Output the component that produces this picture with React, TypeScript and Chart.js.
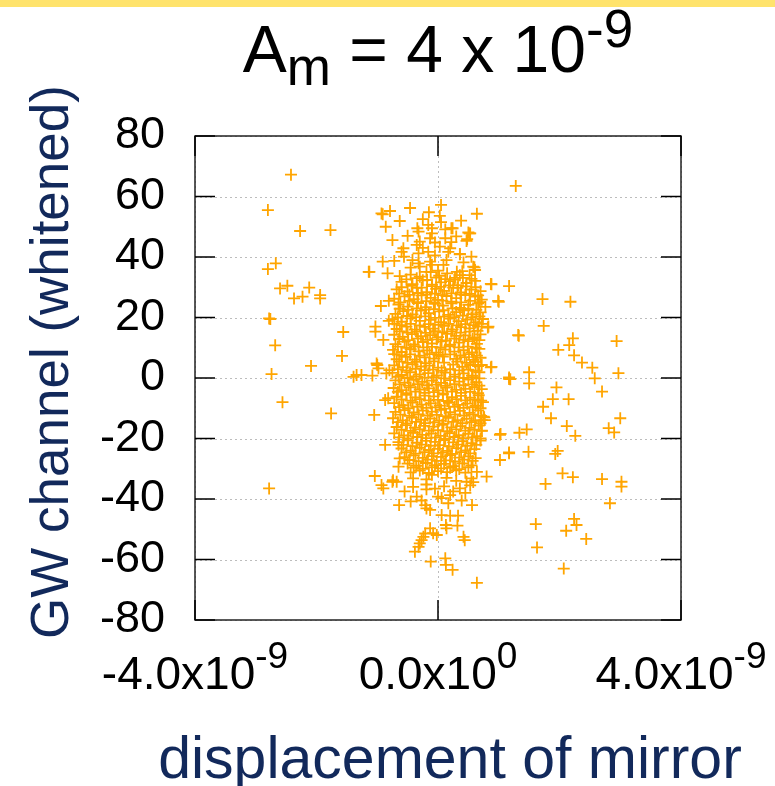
import React, { useEffect, useRef } from "react";
import { Chart, registerables } from "chart.js";

Chart.register(...registerables);

// x values are given in units of 1e-9 (displacement of mirror), y in GW channel (whitened)
const X_UNIT = 1e-9;

const leftOutliers: [number, number][] = [
  [-2.42, 67.2], [-2.80, 55.5], [-2.27, 48.6], [-1.77, 48.9], [-2.80, 36.0], [-2.67, 37.9],
  [-2.60, 29.6], [-2.48, 30.5], [-2.37, 26.3], [-2.23, 26.9], [-2.12, 29.9], [-1.94, 27.4],
  [-1.94, 26.3], [-2.78, 19.7], [-2.76, 19.5], [-2.68, 10.8], [-2.74, 1.3], [-1.56, 15.2],
  [-1.58, 7.3], [-2.09, 4.0], [-1.14, 35.1], [-0.91, 38.5], [-0.83, 34.6], [-1.03, 17.0],
  [-1.03, 15.3], [-0.81, 18.9], [-0.94, 23.8], [-0.81, 25.5], [-0.90, 12.6], [-1.00, 4.3],
  [-0.80, 2.6], [-1.34, 1.0], [-1.39, 0.4], [-2.56, -8.0], [-1.76, -11.7], [-1.05, -12.2],
  [-0.87, -7.3], [-0.82, -6.7], [-0.87, -22.1], [-0.65, -22.1], [-2.78, -36.5], [-1.04, -32.4],
  [-0.93, -35.4], [-0.90, -36.5], [-0.75, -34.3], [-0.64, -42.0], [-0.65, -29.3], [-0.63, -26.6],
  [-1.26, 1.0], [-1.01, 4.8], [-0.98, 3.2], [-1.08, 0.8], [-0.85, 1.5], [-1.13, 35.1],
];

const rightOutliers: [number, number][] = [
  [1.28, 63.5], [0.64, 54.3], [0.87, 31.1], [1.17, 30.4], [0.88, 31.0], [1.00, 25.2],
  [0.99, 25.5], [1.72, 26.1], [2.18, 25.2], [0.82, 16.7], [0.83, 17.0], [1.33, 14.0],
  [1.32, 14.2], [1.74, 17.2], [2.22, 13.1], [2.16, 10.9], [1.98, 9.3], [2.24, 7.5],
  [2.37, 5.1], [2.54, 3.4], [2.94, 12.2], [2.97, 1.6], [1.50, 1.9], [1.17, 0.2],
  [0.87, 3.5], [0.88, 3.7], [0.72, 4.3], [1.17, -0.3], [1.19, -0.4], [1.50, -1.8],
  [1.95, -3.1], [2.58, -0.1], [2.70, -4.5], [1.73, -9.5], [1.89, -7.0], [2.15, -7.0],
  [1.86, -13.3], [2.12, -15.9], [2.26, -19.1], [2.81, -16.6], [2.90, -18.0], [3.00, -13.3],
  [1.46, -17.0], [1.34, -18.1], [1.03, -18.5], [1.02, -18.8], [0.72, -13.9], [0.72, -17.4],
  [1.17, -24.9], [1.17, -24.6], [1.49, -24.4], [1.02, -27.1], [1.93, -25.1], [1.97, -24.1],
  [2.05, -31.5], [2.22, -32.8], [1.77, -35.0], [2.70, -33.4], [3.02, -34.3], [3.02, -35.9],
  [2.83, -41.4], [0.80, -32.6], [0.56, -42.0], [1.61, -48.3], [2.24, -46.6], [2.28, -48.6],
  [2.11, -50.5], [2.44, -53.2], [1.63, -56.0], [2.07, -63.0], [0.64, -67.7], [0.75, -12.8],
  [0.77, -13.9], [0.66, -7.3],
];

const coreUpper: [number, number][] = [
  [0.05, 57.2], [0.03, 53.6], [-0.15, 54.8], [-0.91, 54.1], [-0.79, 55.2], [-0.46, 56.2],
  [-0.93, 54.4], [-0.63, 51.9], [-0.86, 50.0], [-0.16, 50.6], [-0.10, 49.5], [-0.34, 49.5],
  [-0.32, 48.4], [0.22, 49.5], [0.12, 49.1], [0.50, 48.1], [0.53, 47.8], [0.24, 49.5],
  [0.12, 46.2], [0.52, 47.8], [0.48, 45.9], [-0.10, 47.8], [-0.13, 46.2], [-0.75, 45.6],
  [-0.30, 45.1], [-0.35, 44.0], [0.22, 44.9], [0.47, 45.3], [-0.57, 42.9], [-0.60, 41.7],
  [0.03, 43.4], [0.20, 42.9], [0.17, 41.7], [0.36, 40.9], [0.55, 40.1], [-0.32, 41.2],
  [-0.16, 41.7], [-0.72, 38.7], [-0.56, 40.1], [-0.32, 37.9], [-0.13, 38.5], [-0.10, 37.4],
  [0.14, 39.0], [0.09, 37.4], [0.58, 36.8], [0.61, 35.7], [0.60, 36.6], [-0.63, 33.7],
  [-0.30, 36.8], [-0.19, 35.1], [0.31, 35.1], [0.36, 34.0], [0.36, 41.0], [-0.45, 36.5],
  [0.0, 35.5], [-0.05, 40.5], [0.42, 38.2], [-0.42, 39.0], [-0.25, 43.0], [0.30, 46.8],
  [-0.50, 47.0], [-0.05, 44.8], [0.05, 51.5], [-0.25, 52.5], [0.38, 52.0],
];

const coreDense: [number, number][] = [
  [-0.45, 34.2], [-0.3, 33.5], [-0.12, 35.0], [0.02, 33.8], [0.15, 34.6], [0.28, 33.1], [0.4, 35.3], [0.52, 34.0],
  [-0.6, 31.8], [-0.42, 31.0], [-0.25, 32.3], [-0.1, 30.9], [0.05, 31.6], [0.2, 32.0], [0.33, 30.7], [0.47, 31.4], [0.61, 32.1],
  [-0.68, 29.3], [-0.5, 28.6], [-0.35, 29.8], [-0.18, 28.4], [-0.03, 29.5], [0.1, 28.8], [0.25, 29.9], [0.38, 28.3], [0.55, 29.2], [0.7, 28.7],
  [-0.72, 26.2], [-0.55, 27.0], [-0.4, 26.1], [-0.27, 27.3], [-0.12, 26.5], [0.0, 25.8], [0.14, 27.1], [0.3, 26.4], [0.45, 27.4], [0.61, 26.9], [0.72, 25.9],
  [-0.65, 24.3], [-0.5, 23.6], [-0.33, 24.8], [-0.2, 23.4], [-0.05, 24.5], [0.08, 23.9], [0.22, 24.7], [0.36, 23.2], [0.5, 24.2], [0.66, 24.7], [0.78, 23.5],
  [-0.7, 21.2], [-0.57, 22.1], [-0.42, 21.0], [-0.28, 22.3], [-0.15, 21.4], [0.02, 22.0], [0.17, 20.9], [0.3, 21.8], [0.43, 22.4], [0.57, 21.1], [0.7, 21.7],
  [-0.75, 19.4], [-0.6, 18.6], [-0.45, 19.7], [-0.3, 18.9], [-0.12, 19.2], [0.05, 18.5], [0.2, 19.6], [0.34, 18.8], [0.48, 19.3], [0.62, 18.4], [0.74, 19.5],
  [-0.68, 16.2], [-0.52, 17.0], [-0.38, 16.0], [-0.22, 16.9], [-0.08, 16.3], [0.1, 17.2], [0.24, 16.1], [0.38, 16.8], [0.52, 16.4], [0.66, 17.0],
  [-0.72, 14.3], [-0.58, 13.6], [-0.43, 14.5], [-0.28, 13.8], [-0.13, 14.2], [0.0, 13.5], [0.15, 14.6], [0.3, 13.9], [0.45, 14.1], [0.6, 13.4], [0.7, 14.4],
  [-0.7, 11.2], [-0.55, 12.0], [-0.4, 11.1], [-0.25, 11.9], [-0.1, 11.4], [0.06, 12.1], [0.2, 11.0], [0.35, 11.7], [0.5, 12.2], [0.64, 11.3],
  [-0.74, 9.3], [-0.6, 8.6], [-0.45, 9.5], [-0.32, 8.8], [-0.18, 9.1], [-0.03, 8.4], [0.12, 9.4], [0.27, 8.7], [0.42, 9.2], [0.56, 8.5], [0.68, 9.6],
  [-0.68, 6.2], [-0.53, 7.0], [-0.38, 6.1], [-0.22, 6.8], [-0.06, 6.4], [0.08, 7.1], [0.3, 6.3], [0.44, 6.9], [0.58, 6.0], [0.7, 6.7],
  [-0.72, 4.2], [-0.58, 3.6], [-0.42, 4.5], [-0.28, 3.8], [-0.14, 4.1], [0.0, 3.4], [0.25, 4.4], [0.4, 3.7], [0.53, 4.3], [0.66, 3.9],
  [-0.75, 1.7], [-0.6, 1.0], [-0.46, 1.9], [-0.3, 1.2], [-0.16, 1.6], [-0.02, 0.9], [0.12, 1.8], [0.28, 1.1], [0.42, 1.5], [0.56, 0.8], [0.68, 1.9],
  [-0.7, -0.8], [-0.55, -1.5], [-0.4, -0.6], [-0.26, -1.3], [-0.1, -0.9], [0.05, -1.6], [0.2, -0.7], [0.35, -1.2], [0.5, -0.5], [0.63, -1.4],
  [-0.73, -3.3], [-0.6, -4.0], [-0.45, -3.1], [-0.3, -3.8], [-0.15, -3.4], [0.0, -4.1], [0.15, -3.2], [0.3, -3.9], [0.45, -3.6], [0.6, -3.0], [0.72, -3.7],
  [-0.68, -6.2], [-0.52, -5.6], [-0.37, -6.4], [-0.22, -5.8], [-0.07, -6.1], [0.08, -5.5], [0.23, -6.3], [0.38, -5.9], [0.53, -6.5], [0.67, -5.7],
  [-0.72, -8.3], [-0.57, -9.0], [-0.42, -8.1], [-0.27, -8.8], [-0.12, -8.4], [0.03, -9.1], [0.18, -8.2], [0.33, -8.9], [0.48, -8.5], [0.62, -9.2], [0.74, -8.0],
  [-0.7, -11.2], [-0.55, -10.6], [-0.4, -11.4], [-0.25, -10.8], [-0.1, -11.1], [0.05, -10.5], [0.2, -11.3], [0.36, -10.9], [0.52, -11.5], [0.66, -10.7],
  [-0.74, -13.3], [-0.58, -14.0], [-0.43, -13.1], [-0.28, -13.8], [-0.13, -13.4], [0.02, -14.1], [0.17, -13.2], [0.32, -13.9], [0.47, -13.5], [0.61, -14.2], [0.76, -13.0],
  [-0.68, -16.2], [-0.53, -15.6], [-0.38, -16.4], [-0.23, -15.8], [-0.08, -16.1], [0.07, -15.5], [0.22, -16.3], [0.37, -15.9], [0.52, -16.5], [0.67, -15.7],
  [-0.72, -18.3], [-0.56, -19.0], [-0.41, -18.1], [-0.26, -18.8], [-0.11, -18.4], [0.04, -19.1], [0.19, -18.2], [0.34, -18.9], [0.5, -18.5], [0.64, -19.2],
  [-0.65, -21.2], [-0.5, -20.6], [-0.35, -21.4], [-0.2, -20.8], [-0.05, -21.1], [0.1, -20.5], [0.25, -21.3], [0.4, -20.9], [0.55, -21.5], [0.7, -20.7],
  [-0.6, -23.3], [-0.45, -24.0], [-0.3, -23.1], [-0.15, -23.8], [0.0, -23.4], [0.15, -24.1], [0.3, -23.2], [0.45, -23.9], [0.6, -23.5],
  [-0.55, -26.2], [-0.4, -25.6], [-0.25, -26.4], [-0.1, -25.8], [0.05, -26.1], [0.2, -25.5], [0.35, -26.3], [0.5, -25.9], [0.62, -26.5],
  [-0.5, -28.3], [-0.36, -29.0], [-0.2, -28.1], [-0.05, -28.8], [0.1, -28.4], [0.25, -29.1], [0.4, -28.2], [0.55, -28.9],
  [-0.45, -31.2], [-0.3, -30.6], [-0.15, -31.4], [0.0, -30.8], [0.15, -31.1], [0.3, -30.5], [0.45, -31.3],
];

const coreFill: [number, number][] = [
  [-0.52, 32.6], [-0.35, 33.0], [-0.18, 32.4], [-0.03, 33.2], [0.12, 32.7], [0.27, 32.5], [0.41, 33.1], [0.55, 32.8],
  [-0.6, 30.0], [-0.43, 30.5], [-0.27, 29.9], [-0.1, 30.4], [0.04, 30.1], [0.18, 30.6], [0.32, 29.8], [0.46, 30.3], [0.62, 30.0],
  [-0.64, 27.9], [-0.47, 27.5], [-0.33, 28.1], [-0.19, 27.6], [-0.05, 27.9], [0.07, 27.4], [0.22, 28.0], [0.37, 27.6], [0.52, 27.8], [0.66, 27.3],
  [-0.62, 25.0], [-0.47, 25.5], [-0.34, 25.1], [-0.19, 25.4], [-0.06, 24.9], [0.07, 25.6], [0.22, 25.2], [0.38, 25.0], [0.53, 25.5], [0.69, 25.1],
  [-0.63, 22.9], [-0.49, 22.5], [-0.35, 23.0], [-0.21, 22.6], [-0.07, 22.8], [0.09, 22.4], [0.24, 23.0], [0.37, 22.6], [0.5, 22.9], [0.63, 22.5],
  [-0.66, 20.0], [-0.51, 20.5], [-0.36, 20.1], [-0.21, 20.4], [-0.05, 19.9], [0.1, 20.3], [0.27, 20.1], [0.41, 20.6], [0.55, 20.0], [0.68, 20.4],
  [-0.72, 17.9], [-0.6, 17.5], [-0.45, 17.9], [-0.3, 17.4], [-0.15, 17.8], [0.01, 17.6], [0.17, 17.9], [0.31, 17.4], [0.45, 17.8], [0.59, 17.5], [0.72, 17.9],
  [-0.63, 15.4], [-0.5, 15.0], [-0.35, 15.3], [-0.2, 14.9], [-0.05, 15.5], [0.07, 15.1], [0.22, 15.4], [0.37, 15.0], [0.52, 15.3], [0.65, 15.6],
  [-0.64, 12.9], [-0.49, 12.5], [-0.33, 13.0], [-0.17, 12.6], [-0.02, 12.8], [0.13, 12.4], [0.27, 13.0], [0.42, 12.6], [0.57, 12.9], [0.68, 12.5],
  [-0.66, 10.4], [-0.52, 10.0], [-0.38, 10.5], [-0.24, 10.1], [-0.1, 10.3], [0.04, 10.0], [0.19, 10.5], [0.34, 10.1], [0.49, 10.4], [0.62, 10.0],
  [-0.72, 7.9], [-0.6, 7.5], [-0.46, 7.8], [-0.3, 7.4], [-0.14, 7.9], [0.01, 7.6], [0.2, 7.8], [0.37, 7.5], [0.51, 7.9], [0.64, 7.4],
  [-0.64, 5.4], [-0.5, 5.0], [-0.35, 5.3], [-0.2, 4.9], [-0.07, 5.5], [0.1, 5.1], [0.32, 5.4], [0.47, 5.0], [0.61, 5.3],
  [-0.66, 2.9], [-0.52, 2.5], [-0.37, 3.0], [-0.22, 2.6], [-0.08, 2.8], [0.06, 2.4], [0.2, 2.9], [0.35, 2.5], [0.5, 2.8], [0.62, 2.4],
  [-0.65, 0.4], [-0.5, 0.0], [-0.36, 0.5], [-0.22, 0.1], [-0.07, 0.3], [0.1, -0.1], [0.27, 0.4], [0.42, 0.0], [0.57, 0.3], [0.68, -0.1],
  [-0.63, -2.1], [-0.48, -2.5], [-0.33, -2.0], [-0.18, -2.4], [-0.03, -2.2], [0.12, -2.6], [0.27, -2.0], [0.42, -2.4], [0.56, -2.1], [0.68, -2.5],
  [-0.66, -4.6], [-0.52, -5.0], [-0.37, -4.5], [-0.22, -4.9], [-0.07, -4.7], [0.08, -5.1], [0.23, -4.5], [0.38, -4.9], [0.53, -4.6], [0.66, -5.0],
  [-0.6, -7.1], [-0.45, -7.5], [-0.3, -7.0], [-0.15, -7.4], [0.0, -7.2], [0.15, -7.6], [0.3, -7.0], [0.45, -7.4], [0.6, -7.1], [0.71, -7.5],
  [-0.64, -9.6], [-0.49, -10.0], [-0.34, -9.5], [-0.19, -9.9], [-0.04, -9.7], [0.11, -10.1], [0.27, -9.5], [0.42, -9.9], [0.57, -9.6], [0.7, -10.0],
  [-0.62, -12.1], [-0.47, -12.5], [-0.32, -12.0], [-0.17, -12.4], [-0.02, -12.2], [0.13, -12.6], [0.28, -12.0], [0.43, -12.4], [0.58, -12.1], [0.71, -12.5],
  [-0.66, -14.6], [-0.51, -15.0], [-0.36, -14.5], [-0.21, -14.9], [-0.06, -14.7], [0.09, -15.1], [0.25, -14.5], [0.4, -14.9], [0.55, -14.6], [0.7, -15.0],
  [-0.6, -17.1], [-0.45, -17.5], [-0.3, -17.0], [-0.15, -17.4], [0.0, -17.2], [0.15, -17.6], [0.3, -17.0], [0.45, -17.4], [0.6, -17.1], [0.72, -17.5],
  [-0.64, -19.6], [-0.49, -20.0], [-0.34, -19.5], [-0.19, -19.9], [-0.04, -19.7], [0.12, -20.1], [0.27, -19.5], [0.42, -19.9], [0.57, -19.6], [0.7, -20.0],
  [-0.57, -22.1], [-0.42, -22.5], [-0.27, -22.0], [-0.12, -22.4], [0.03, -22.2], [0.18, -22.6], [0.33, -22.0], [0.48, -22.4], [0.63, -22.1],
  [-0.52, -24.6], [-0.37, -25.0], [-0.22, -24.5], [-0.07, -24.9], [0.08, -24.7], [0.23, -25.1], [0.38, -24.5], [0.53, -24.9],
  [-0.47, -27.1], [-0.32, -27.5], [-0.17, -27.0], [-0.02, -27.4], [0.13, -27.2], [0.28, -27.6], [0.43, -27.0], [0.57, -27.4],
  [-0.4, -29.6], [-0.25, -30.0], [-0.1, -29.5], [0.05, -29.9], [0.2, -29.7], [0.35, -30.1], [0.5, -29.5],
];

const coreLower: [number, number][] = [
  [-0.41, -33.2], [-0.19, -33.5], [-0.10, -32.0], [0.14, -33.0], [0.47, -34.3], [0.55, -33.2],
  [0.64, -31.0], [-0.68, -34.3], [-0.74, -33.8], [-0.35, -39.2], [-0.21, -42.0], [-0.13, -43.6],
  [-0.27, -40.5], [0.0, -39.2], [0.06, -39.7], [0.17, -41.4], [0.2, -38.7], [0.36, -36.5],
  [0.39, -40.5], [0.53, -35.5], [0.58, -34.4], [-0.19, -35.2], [-0.19, -36.8], [-0.41, -36.0],
  [-0.55, -37.5], [0.1, -35.8], [0.3, -34.0], [-0.05, -36.6], [-0.19, -43.1], [0.06, -45.3],
  [0.20, -45.5], [0.33, -45.5], [0.13, -48.6], [0.14, -49.7], [0.32, -48.8], [0.42, -52.5],
  [0.44, -53.6], [-0.13, -49.7], [-0.21, -51.4], [-0.27, -53.6], [-0.38, -57.4], [-0.32, -55.8],
  [-0.30, -54.7], [-0.24, -52.5], [-0.02, -51.9], [-0.08, -51.3], [-0.12, -60.7], [0.12, -59.6],
  [0.13, -61.8], [0.24, -63.4], [0.45, -38.0], [-0.45, -40.8], [0.25, -37.5],
];

const yTicks = [-80, -60, -40, -20, 0, 20, 40, 60, 80];
const xTickValues = [-4, 0, 4];
const xTickMantissa = ["-4.0x10", "0.0x10", "4.0x10"];
const xTickExponent = ["-9", "0", "-9"];

const TITLE_MAIN = "A";
const TITLE_SUB = "m";
const TITLE_REST = " = 4 x 10";
const TITLE_SUP = "-9";
const Y_TITLE = "GW channel (whitened)";
const X_TITLE = "displacement of mirror";

const FONT = "'Liberation Sans', Arial, Helvetica, sans-serif";
const NAVY = "#12295b";

export default function App() {
  const ref = useRef<HTMLCanvasElement | null>(null);

  useEffect(() => {
    document.body.style.margin = "0";
    const canvas = ref.current;
    if (!canvas) return;

    const points = [...leftOutliers, ...rightOutliers, ...coreUpper, ...coreDense, ...coreFill, ...coreLower].map(
      ([x, y]) => ({ x: x * X_UNIT, y })
    );

    const decor = {
      id: "decor",
      beforeDatasetsDraw(chart: any) {
        const { ctx, chartArea: a, scales } = chart;
        ctx.save();
        ctx.strokeStyle = "#bdbdbd";
        ctx.lineWidth = 1;
        ctx.setLineDash([2, 3]);
        for (const v of yTicks) {
          const py = Math.round(scales.y.getPixelForValue(v)) + 0.5;
          ctx.beginPath();
          ctx.moveTo(a.left, py);
          ctx.lineTo(a.right, py);
          ctx.stroke();
        }
        for (const v of xTickValues) {
          const px = Math.round(scales.x.getPixelForValue(v * X_UNIT)) + 0.5;
          ctx.beginPath();
          ctx.moveTo(px, a.top);
          ctx.lineTo(px, a.bottom);
          ctx.stroke();
        }
        ctx.restore();
      },
      afterDatasetsDraw(chart: any) {
        const { ctx, chartArea: a, scales } = chart;
        ctx.save();
        // top yellow band
        ctx.fillStyle = "#FFE36C";
        ctx.fillRect(0, 0, chart.width, 7);

        // frame
        ctx.strokeStyle = "#222";
        ctx.lineWidth = 1.5;
        ctx.strokeRect(a.left, a.top, a.right - a.left, a.bottom - a.top);
        // tick marks
        ctx.strokeStyle = "#000";
        ctx.lineWidth = 1.5;
        for (const v of yTicks) {
          const py = scales.y.getPixelForValue(v);
          ctx.beginPath();
          ctx.moveTo(a.left, py);
          ctx.lineTo(a.left + 20, py);
          ctx.moveTo(a.right - 20, py);
          ctx.lineTo(a.right, py);
          ctx.stroke();
        }
        for (const v of xTickValues) {
          const px = scales.x.getPixelForValue(v * X_UNIT);
          ctx.beginPath();
          ctx.moveTo(px, a.top);
          ctx.lineTo(px, a.top + 20);
          ctx.moveTo(px, a.bottom - 20);
          ctx.lineTo(px, a.bottom);
          ctx.stroke();
        }

        // x tick labels with superscripts
        ctx.fillStyle = "#000";
        ctx.textBaseline = "alphabetic";
        ctx.textAlign = "left";
        xTickValues.forEach((v, i) => {
          const px = scales.x.getPixelForValue(v * X_UNIT);
          ctx.font = `46px ${FONT}`;
          const w1 = ctx.measureText(xTickMantissa[i]).width;
          ctx.font = `37px ${FONT}`;
          const w2 = ctx.measureText(xTickExponent[i]).width;
          const start = px - (w1 + w2) / 2;
          ctx.font = `46px ${FONT}`;
          ctx.fillText(xTickMantissa[i], start, 689);
          ctx.font = `37px ${FONT}`;
          ctx.fillText(xTickExponent[i], start + w1, 668);
        });

        // title
        const cx = (a.left + a.right) / 2;
        const big = `66px ${FONT}`;
        const small = `53px ${FONT}`;
        ctx.font = big;
        const wA = ctx.measureText(TITLE_MAIN).width;
        const wR = ctx.measureText(TITLE_REST).width;
        ctx.font = small;
        const wM = ctx.measureText(TITLE_SUB).width;
        const wS = ctx.measureText(TITLE_SUP).width;
        let tx = cx - (wA + wM + wR + wS) / 2;
        const tb = 72;
        ctx.font = big;
        ctx.fillText(TITLE_MAIN, tx, tb);
        tx += wA;
        ctx.font = small;
        ctx.fillText(TITLE_SUB, tx, tb + 13);
        tx += wM;
        ctx.font = big;
        ctx.fillText(TITLE_REST, tx, tb);
        tx += wR;
        ctx.font = small;
        ctx.fillText(TITLE_SUP, tx, tb - 25);

        // axis titles
        ctx.fillStyle = NAVY;
        ctx.textAlign = "center";
        ctx.font = `59px ${FONT}`;
        ctx.fillText(X_TITLE, 450, 778);

        ctx.save();
        ctx.translate(68, 362);
        ctx.rotate(-Math.PI / 2);
        ctx.font = `53px ${FONT}`;
        ctx.fillText(Y_TITLE, 0, 0);
        ctx.restore();

        ctx.restore();
      },
    };

    const chart = new Chart(canvas, {
      type: "scatter",
      data: {
        datasets: [
          {
            data: points,
            pointStyle: "cross",
            pointRadius: 6,
            pointHoverRadius: 6,
            borderWidth: 1.8,
            borderColor: "#FFA500",
            backgroundColor: "#FFA500",
          },
        ],
      },
      options: {
        animation: false,
        responsive: false,
        devicePixelRatio: 1,
        events: [],
        layout: { padding: { left: 0, right: 94, top: 136, bottom: 166 } },
        plugins: { legend: { display: false }, tooltip: { enabled: false }, title: { display: false } },
        scales: {
          x: {
            type: "linear",
            min: -4 * X_UNIT,
            max: 4 * X_UNIT,
            grid: { display: false, drawTicks: false },
            border: { display: false },
            ticks: { display: false },
            afterFit: (s: any) => {
              s.height = 0;
            },
          },
          y: {
            type: "linear",
            min: -80,
            max: 80,
            grid: { display: false, drawTicks: false },
            border: { display: false },
            ticks: {
              stepSize: 20,
              padding: 30,
              color: "#000",
              font: { family: FONT, size: 45 },
            },
            afterFit: (s: any) => {
              s.width = 195;
            },
          },
        },
      },
      plugins: [decor],
    });

    return () => chart.destroy();
  }, []);

  return <canvas ref={ref} width={775} height={786} style={{ display: "block" }} />;
}
